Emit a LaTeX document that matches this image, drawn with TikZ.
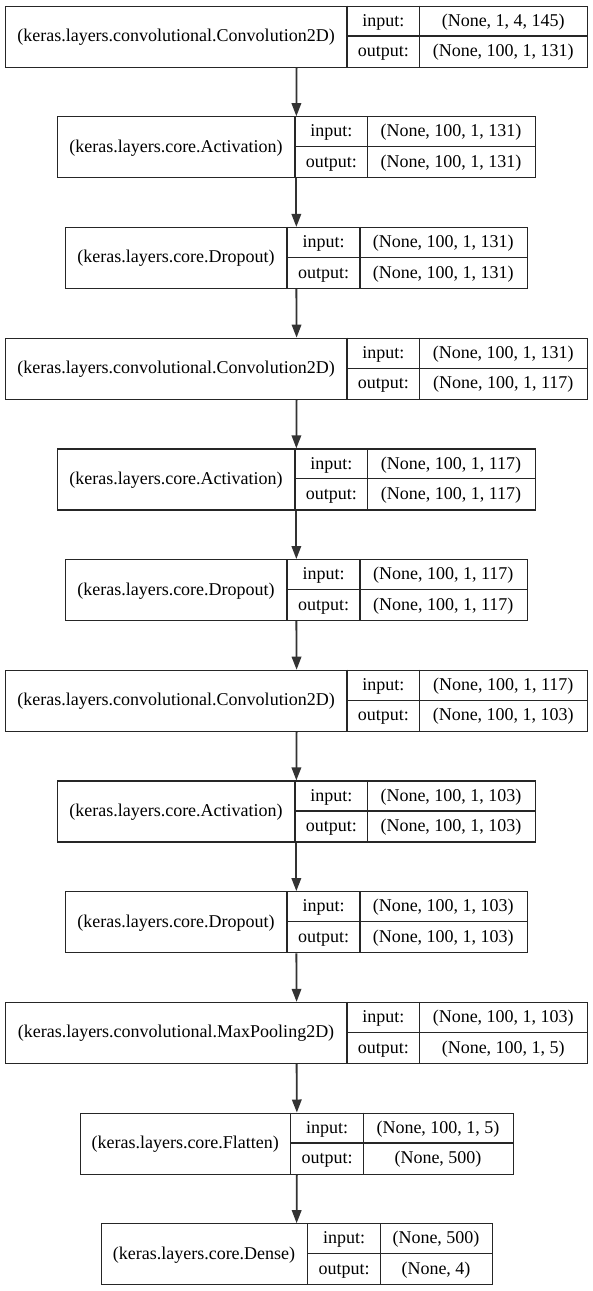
\documentclass[tikz,border=0pt]{standalone}
\usepackage{fontspec}
\setmainfont{Liberation Serif}
\usetikzlibrary{arrows.meta}
\tikzset{
  boxline/.style={draw=black!85, line width=1.2pt},
  frame/.style={boxline, rectangle, inner sep=0pt, anchor=north west},
  txt/.style={inner sep=0pt, anchor=base, font=\fontsize{18}{20}\selectfont},
  arr/.style={draw=black!80, line width=1.8pt, -{Triangle[length=13pt,width=9.5pt]}},
}
% #1 name, #2 index, #3 x0, #4 x1, #5 x2, #6 x3, #7 label, #8 input, #9 output
\newcommand\kerlayer[9]{%
  \pgfmathsetmacro\lyT{-(5.5+110.7*(#2-1))}%
  \pgfmathsetmacro\lyB{\lyT-61}%
  \pgfmathsetmacro\lyM{\lyT-30.5}%
  \pgfmathsetmacro\lyW{#6-#3}%
  \pgfmathsetmacro\lyCa{(#3+#4)/2}%
  \pgfmathsetmacro\lyCb{(#4+#5)/2}%
  \pgfmathsetmacro\lyCc{(#5+#6)/2}%
  \node[frame, minimum width=\lyW pt, minimum height=61pt] (#1) at (#3,\lyT) {};
  \draw[boxline] (#4,\lyT) -- (#4,\lyB) (#5,\lyT) -- (#5,\lyB) (#4,\lyM) -- (#6,\lyM);
  \node[txt] (#1-l)  at (\lyCa,\lyT-36) {#7};
  \node[txt] (#1-ik) at (\lyCb,\lyT-20.7) {input:};
  \node[txt] (#1-iv) at (\lyCc,\lyT-20.7) {#8};
  \node[txt] (#1-ok) at (\lyCb,\lyM-20.7) {output:};
  \node[txt] (#1-ov) at (\lyCc,\lyM-20.7) {#9};
}
\begin{document}
\begin{tikzpicture}[x=1pt,y=1pt]
\useasboundingbox[fill=white] (0,0) rectangle (592,-1291);
\kerlayer{c1}{1}{5}{347}{419.5}{587}{(keras.layers.convolutional.Convolution2D)}{(None, 1, 4, 145)}{(None, 100, 1, 131)}
\kerlayer{a1}{2}{57}{295}{367.5}{534.5}{(keras.layers.core.Activation)}{(None, 100, 1, 131)}{(None, 100, 1, 131)}
\kerlayer{d1}{3}{65}{287}{360}{526.5}{(keras.layers.core.Dropout)}{(None, 100, 1, 131)}{(None, 100, 1, 131)}
\kerlayer{c2}{4}{5}{347}{419.5}{587}{(keras.layers.convolutional.Convolution2D)}{(None, 100, 1, 131)}{(None, 100, 1, 117)}
\kerlayer{a2}{5}{57}{295}{367.5}{534.5}{(keras.layers.core.Activation)}{(None, 100, 1, 117)}{(None, 100, 1, 117)}
\kerlayer{d2}{6}{65}{287}{360}{526.5}{(keras.layers.core.Dropout)}{(None, 100, 1, 117)}{(None, 100, 1, 117)}
\kerlayer{c3}{7}{5}{347}{419.5}{587}{(keras.layers.convolutional.Convolution2D)}{(None, 100, 1, 117)}{(None, 100, 1, 103)}
\kerlayer{a3}{8}{57}{295}{367.5}{534.5}{(keras.layers.core.Activation)}{(None, 100, 1, 103)}{(None, 100, 1, 103)}
\kerlayer{d3}{9}{65}{287}{360}{526.5}{(keras.layers.core.Dropout)}{(None, 100, 1, 103)}{(None, 100, 1, 103)}
\kerlayer{mp}{10}{5}{347}{419.5}{587}{(keras.layers.convolutional.MaxPooling2D)}{(None, 100, 1, 103)}{(None, 100, 1, 5)}
\kerlayer{fl}{11}{80}{290.5}{363.5}{512.5}{(keras.layers.core.Flatten)}{(None, 100, 1, 5)}{(None, 500)}
\kerlayer{de}{12}{100.5}{307.5}{380.5}{491.5}{(keras.layers.core.Dense)}{(None, 500)}{(None, 4)}
\foreach \a/\b in {c1/a1,a1/d1,d1/c2,c2/a2,a2/d2,d2/c3,c3/a3,a3/d3,d3/mp,mp/fl,fl/de}
  \draw[arr] (\a.south) -- (\b.north);
\end{tikzpicture}
\end{document}
